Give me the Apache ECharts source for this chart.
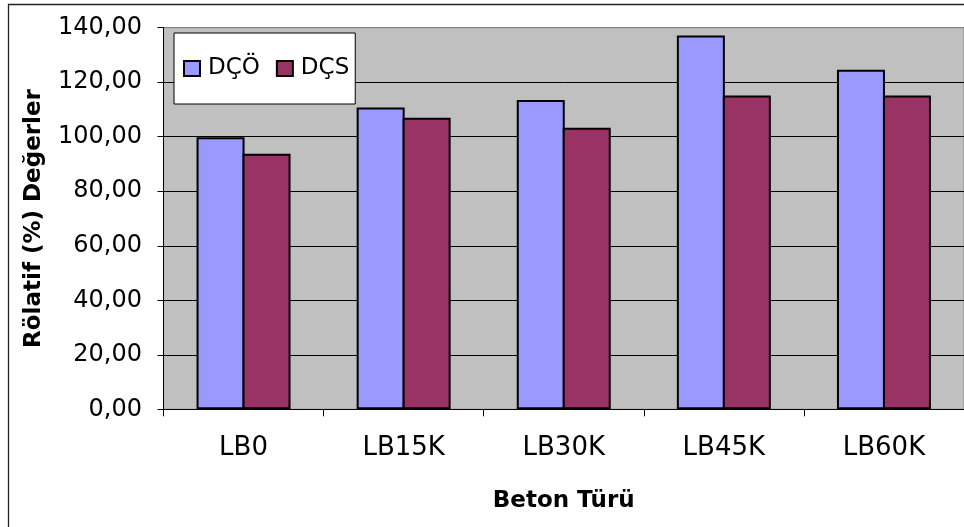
<!DOCTYPE html>
<html>
<head>
<meta charset="utf-8">
<script src="https://cdn.jsdelivr.net/npm/echarts@6/dist/echarts.min.js"></script>
<style>
html,body{margin:0;padding:0;background:#fff;}
#chart{width:964px;height:527px;}
</style>
</head>
<body>
<div id="chart"></div>
<script>
const categories = ['LB0', 'LB15K', 'LB30K', 'LB45K', 'LB60K'];
const seriesNames = ['DÇÖ', 'DÇS'];
const dcoValues = [99.8, 110.7, 113.5, 137.1, 124.6];
const dcsValues = [93.8, 107.0, 103.3, 115.1, 115.1];
const yMin = 0, yMax = 140, yInterval = 20;
const xTitle = 'Beton Türü';
const yTitle = 'Rölatif (%) Değerler';

const chart = echarts.init(document.getElementById('chart'), null, {renderer: 'canvas'});
const FONT = 'DejaVu Sans';
chart.setOption({
  animation: false,
  backgroundColor: '#ffffff',
  graphic: [{
    type: 'rect',
    shape: {x: 8.5, y: 4.5, width: 1000, height: 600},
    style: {fill: 'none', stroke: '#222', lineWidth: 1.3},
    z: 100
  }],
  grid: {
    left: 163.5, top: 27.7, right: -6, bottom: 117.7,
    show: true, backgroundColor: '#C0C0C0', borderColor: '#808080', borderWidth: 1
  },
  legend: {
    show: true,
    left: 174, top: 33,
    orient: 'horizontal',
    backgroundColor: '#ffffff',
    borderColor: '#000', borderWidth: 1,
    padding: [24, 6, 24, 9],
    itemGap: 16,
    itemWidth: 16, itemHeight: 15,
    icon: 'rect',
    textStyle: {fontFamily: FONT, fontSize: 23, color: '#000', padding: [0, 0, 0, 3]},
    data: seriesNames
  },
  xAxis: {
    type: 'category',
    data: categories,
    name: xTitle,
    nameLocation: 'middle',
    nameGap: 80,
    nameTextStyle: {fontFamily: FONT, fontSize: 23, fontWeight: 'bold', color: '#000'},
    axisLine: {show: true, lineStyle: {color: '#000', width: 1}},
    axisTick: {show: true, length: 7, inside: false, lineStyle: {color: '#000'}},
    axisLabel: {fontFamily: FONT, fontSize: 26, color: '#000', margin: 26},
    splitLine: {show: false}
  },
  yAxis: {
    type: 'value',
    min: yMin, max: yMax, interval: yInterval,
    name: yTitle,
    nameLocation: 'middle',
    nameRotate: 90,
    nameGap: 118,
    nameTextStyle: {fontFamily: FONT, fontSize: 23, fontWeight: 'bold', color: '#000'},
    axisLine: {show: true, lineStyle: {color: '#000', width: 1}},
    axisTick: {show: true, length: 6, inside: false, lineStyle: {color: '#000'}},
    axisLabel: {
      fontFamily: FONT, fontSize: 24, color: '#000', margin: 21.5,
      formatter: v => v.toFixed(2).replace('.', ',')
    },
    splitLine: {show: true, lineStyle: {color: ['#000','#000','#000','#000','#000','#000','#000','#808080'], width: 1}}
  },
  series: [
    {
      name: seriesNames[0], type: 'bar', data: dcoValues,
      barGap: '-4.2%', barWidth: 48,
      itemStyle: {color: '#9999FF', borderColor: '#000', borderWidth: 2}
    },
    {
      name: seriesNames[1], type: 'bar', data: dcsValues,
      barGap: '-4.2%', barWidth: 48,
      itemStyle: {color: '#993366', borderColor: '#000', borderWidth: 2}
    }
  ]
});
</script>
</body>
</html>
